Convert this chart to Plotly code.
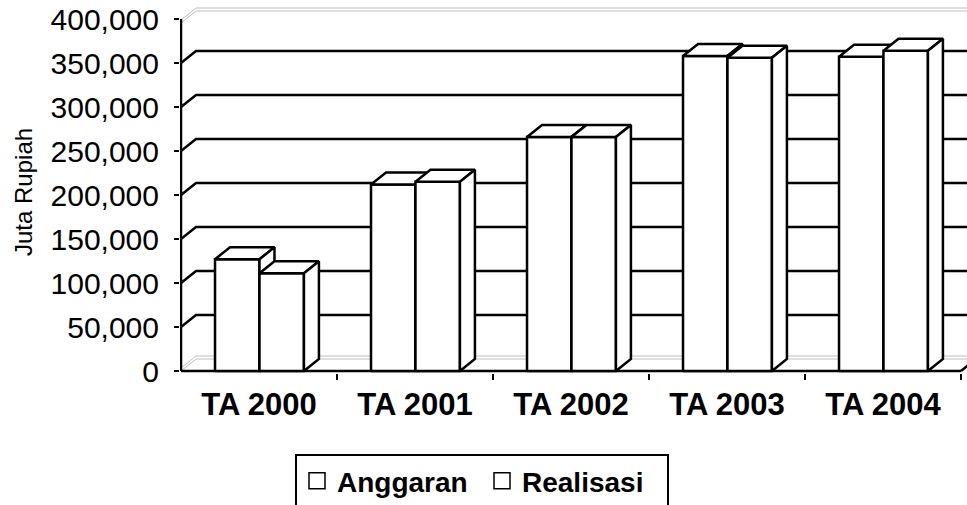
import plotly.graph_objects as go

# ---- data ----
categories = ["TA 2000", "TA 2001", "TA 2002", "TA 2003", "TA 2004"]
anggaran = [127000, 212000, 266000, 358000, 357000]
realisasi = [111000, 215000, 266000, 356000, 364000]
series_names = ["Anggaran", "Realisasi"]
y_ticks = [0, 50000, 100000, 150000, 200000, 250000, 300000, 350000, 400000]
y_ticktext = ["0", "50,000", "100,000", "150,000", "200,000", "250,000", "300,000", "350,000", "400,000"]

# ---- geometry / style ----
W, H = 967, 505
ML, MR, MT, MB = 180, 0, 5, 132
PX_X = 156.0          # px per category unit
PX_Y = 0.00088        # px per value unit
x_lo = -0.5 - 1.0 / PX_X
x_hi = x_lo + (W - ML - MR) / PX_X
y_lo = -2.0 / PX_Y
y_hi = y_lo + (H - MT - MB) / PX_Y
DX = 15.0 / PX_X      # 3D depth offset (x)
DY = 12.0 / PX_Y      # 3D depth offset (y)
LW = 2.5
BAR_W = 0.285
offsets = [-0.282, 0.003]
FONT = "Liberation Sans, Arial, sans-serif"

fig = go.Figure()

def line_trace(xs, ys, color="black", width=LW):
    fig.add_trace(go.Scatter(x=xs, y=ys, mode="lines", line=dict(color=color, width=width),
                             hoverinfo="skip", showlegend=False))

def poly(xs, ys):
    fig.add_trace(go.Scatter(x=xs, y=ys, mode="lines", fill="toself", fillcolor="white",
                             line=dict(color="black", width=LW), hoverinfo="skip",
                             showlegend=False))

left = -0.5
right_end = x_hi + 0.5
gray = "#c0c0c0"

# back wall gridlines with diagonal connectors
for v in y_ticks[1:-1]:
    line_trace([left, left + DX, right_end], [v, v + DY, v + DY])

# top edge of back wall (gray, double)
top = y_ticks[-1]
for off in (1.0 / PX_Y, 4.0 / PX_Y):
    line_trace([left, left + DX, right_end], [top - off, top + DY - off, top + DY - off], color=gray, width=1)
# floor back edge (gray, double)
for off in (0, 3.0 / PX_Y):
    line_trace([left, left + DX, right_end], [off, DY + off, DY + off], color=gray, width=1)

# front axes
line_trace([left, left], [0, top])
line_trace([left, len(categories) - 0.5], [0, 0])
line_trace([len(categories) - 0.5, len(categories) - 0.5 + DX], [0, DY])

# 3D bars
for i in range(len(categories)):
    for s, vals in enumerate([anggaran, realisasi]):
        v = vals[i]
        x0 = i + offsets[s]
        x1 = x0 + BAR_W
        poly([x0, x1, x1, x0, x0], [0, 0, v, v, 0])
        poly([x0, x1, x1 + DX, x0 + DX, x0], [v, v, v + DY, v + DY, v])
        poly([x1, x1 + DX, x1 + DX, x1, x1], [0, DY, v + DY, v, 0])

# legend entries
for name in series_names:
    fig.add_trace(go.Scatter(x=[None], y=[None], mode="markers", name=name,
                             marker=dict(symbol="square", size=16, color="white",
                                         line=dict(color="black", width=1.5))))

fig.update_layout(
    width=W, height=H,
    margin=dict(l=ML, r=MR, t=MT, b=MB, autoexpand=False),
    plot_bgcolor="white", paper_bgcolor="white",
    font=dict(family=FONT, color="black"),
    showlegend=True,
    legend=dict(orientation="h", xref="container", yref="container",
                x=482 / W, xanchor="center",
                y=1 - 454 / H, yanchor="top",
                bordercolor="black", borderwidth=2,
                font=dict(size=28, family=FONT, color="black", weight="bold"),
                entrywidth=140, entrywidthmode="pixels", tracegroupgap=0),
    xaxis=dict(range=[x_lo, x_hi], showgrid=False, zeroline=False, showline=False,
               automargin=False,
               tickmode="array", tickvals=list(range(len(categories))), ticktext=categories,
               ticks="", tickfont=dict(size=31, family=FONT, color="black", weight="bold"),
               ticklabelstandoff=10,
               minor=dict(tickmode="array", tickvals=[i + 0.5 for i in range(len(categories))],
                          ticks="outside", ticklen=6, tickwidth=2, tickcolor="black"),
               fixedrange=True),
    yaxis=dict(range=[y_lo, y_hi], showgrid=False, zeroline=False, showline=False,
               automargin=False,
               tickmode="array", tickvals=y_ticks, ticktext=y_ticktext,
               ticks="outside", ticklen=5, tickwidth=2, tickcolor="black",
               tickfont=dict(size=30, family=FONT, color="black"),
               ticklabeloverflow="allow",
               ticklabelstandoff=9, fixedrange=True),
    annotations=[dict(text="Juta Rupiah", textangle=-90, xref="paper", yref="paper",
                      x=(23 - ML) / (W - ML - MR),
                      y=(H - MB - 192) / (H - MT - MB),
                      xanchor="center", yanchor="middle",
                      showarrow=False, font=dict(size=24, family=FONT, color="black"))],
)

# remove the default page margin so the figure sits at the window's top-left corner
fig.write_html("out.html", config={"displayModeBar": False},
               post_script="document.body.style.margin='0px';")
